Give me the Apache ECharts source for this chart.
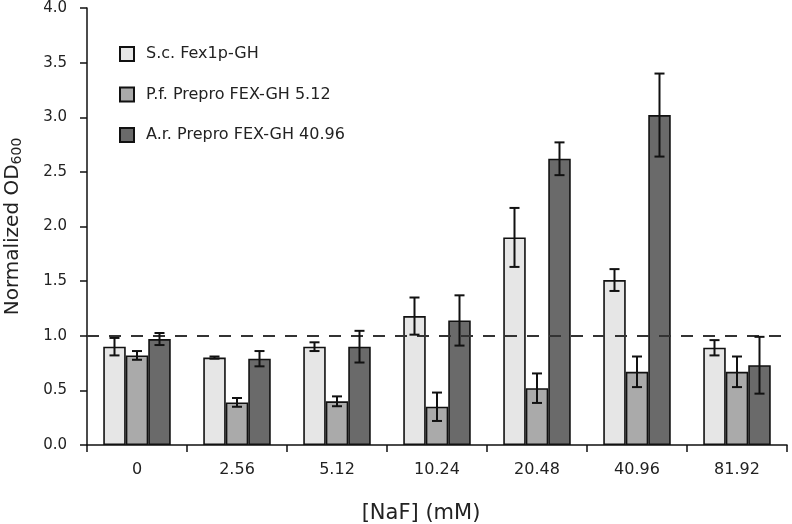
<!DOCTYPE html>
<html>
<head>
<meta charset="utf-8">
<script src="https://cdn.jsdelivr.net/npm/echarts@6/dist/echarts.min.js"></script>
<style>html,body{margin:0;padding:0;background:#fff}#c{width:792px;height:524px}</style>
</head>
<body>
<div id="c"></div>
<script>
var categories = ['0', '2.56', '5.12', '10.24', '20.48', '40.96', '81.92'];
var seriesNames = ['S.c. Fex1p-GH', 'P.f. Prepro FEX-GH 5.12', 'A.r. Prepro FEX-GH 40.96'];
var scValues = [0.90, 0.80, 0.90, 1.18, 1.90, 1.51, 0.89];
var scErrors = [0.08, 0.01, 0.04, 0.17, 0.27, 0.10, 0.07];
var pfValues = [0.82, 0.39, 0.40, 0.35, 0.52, 0.67, 0.67];
var pfErrors = [0.04, 0.04, 0.045, 0.13, 0.135, 0.14, 0.14];
var arValues = [0.97, 0.79, 0.90, 1.14, 2.62, 3.02, 0.73];
var arErrors = [0.055, 0.07, 0.145, 0.23, 0.15, 0.38, 0.26];
var yTicks = { min: 0, max: 4, interval: 0.5 };
var refLine = 1.0;

var colors = ['#e6e6e6', '#aaaaaa', '#6a6a6a'];
var FONT = 'DejaVu Sans';
var BAR_FRAC = 0.225;
var vals = [scValues, pfValues, arValues];
var errs = [scErrors, pfErrors, arErrors];

function errRender(idx) {
  return function (params, api) {
    var x = api.value(0), v = api.value(1), e = api.value(2);
    var band = api.size([1, 0])[0];
    var off = (idx - 1) * band * BAR_FRAC;
    var top = api.coord([x, v + e]);
    var bot = api.coord([x, v - e]);
    var cx = top[0] + off;
    var hw = 5;
    var st = { stroke: '#111', lineWidth: 2 };
    return {
      type: 'group',
      children: [
        { type: 'line', shape: { x1: cx, y1: top[1], x2: cx, y2: bot[1] }, style: st },
        { type: 'line', shape: { x1: cx - hw, y1: top[1], x2: cx + hw, y2: top[1] }, style: st },
        { type: 'line', shape: { x1: cx - hw, y1: bot[1], x2: cx + hw, y2: bot[1] }, style: st }
      ]
    };
  };
}

var series = [];
for (var i = 0; i < 3; i++) {
  var s = {
    name: seriesNames[i],
    type: 'bar',
    data: vals[i],
    barWidth: '22.5%',
    barGap: '0%',
    itemStyle: { color: colors[i], borderColor: '#111', borderWidth: 1.6 },
    emphasis: { disabled: true },
    z: 2
  };
  if (i === 2) {
    s.markLine = {
      silent: true,
      symbol: ['none', 'none'],
      label: { show: false },
      lineStyle: { color: '#333', width: 2, type: [12, 10] },
      data: [{ yAxis: refLine }],
      z: 5
    };
  }
  series.push(s);
}
for (var j = 0; j < 3; j++) {
  series.push({
    type: 'custom',
    renderItem: errRender(j),
    data: vals[j].map(function (v, k) { return [k, v, errs[j][k]]; }),
    z: 6,
    silent: true
  });
}

var chart = echarts.init(document.getElementById('c'), null, { renderer: 'canvas' });
chart.setOption({
  animation: false,
  backgroundColor: '#fff',
  textStyle: { fontFamily: FONT },
  grid: { left: 87, right: 5, top: 8, bottom: 79, containLabel: false, outerBoundsMode: 'none' },
  legend: {
    data: seriesNames,
    orient: 'vertical',
    left: 114,
    top: 41,
    itemWidth: 14,
    itemHeight: 14,
    itemGap: 24.5,
    icon: 'rect',
    selectedMode: false,
    textStyle: { fontFamily: FONT, fontSize: 16, lineHeight: 16, color: '#222', padding: [0, 0, 0, 7] }
  },
  xAxis: {
    type: 'category',
    data: categories,
    name: '[NaF] (mM)',
    nameLocation: 'middle',
    nameGap: 58,
    nameTextStyle: { fontFamily: FONT, fontSize: 21, color: '#222', padding: [0, 32, 0, 0] },
    axisLine: { lineStyle: { color: '#111', width: 1.5 } },
    axisTick: { show: true, length: 7, lineStyle: { color: '#111', width: 1.5 } },
    axisLabel: { fontFamily: FONT, fontSize: 16, color: '#222', margin: 17 }
  },
  yAxis: {
    type: 'value',
    min: yTicks.min,
    max: yTicks.max,
    interval: yTicks.interval,
    name: '{a|Normalized OD}{b|600}',
    nameLocation: 'middle',
    nameRotate: 90,
    nameGap: 63,
    nameTextStyle: {
      rich: {
        a: { fontFamily: FONT, fontSize: 20, color: '#222' },
        b: { fontFamily: FONT, fontSize: 14, color: '#222', padding: [9, 0, 0, 0] }
      }
    },
    splitLine: { show: false },
    axisLine: { show: true, lineStyle: { color: '#111', width: 1.5 } },
    axisTick: { show: true, length: 7, lineStyle: { color: '#111', width: 1.5 } },
    axisLabel: {
      fontFamily: FONT, fontSize: 15, color: '#222', margin: 20,
      formatter: function (v) { return v.toFixed(1); }
    }
  },
  series: series
});
</script>
</body>
</html>
